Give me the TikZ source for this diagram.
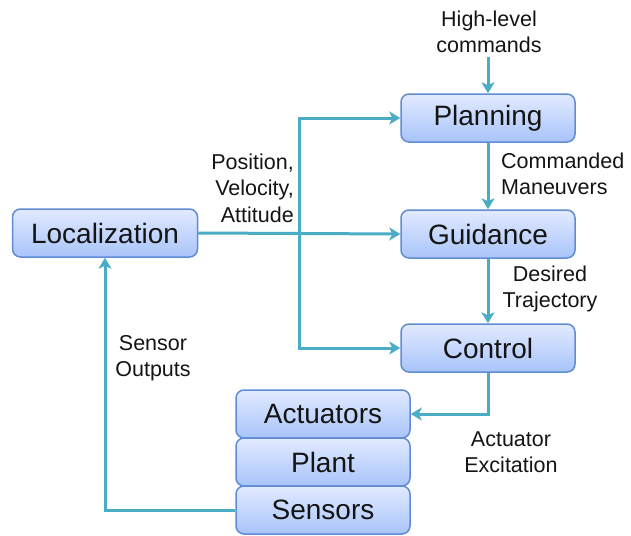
\documentclass[tikz,border=0pt]{standalone}
\usepackage{fontspec}
\setmainfont{Liberation Sans}
\usetikzlibrary{arrows.meta,positioning}
\definecolor{arrowc}{RGB}{75,172,198}
\definecolor{boxtop}{RGB}{226,234,255}
\definecolor{boxbot}{RGB}{168,196,250}
\definecolor{boxdraw}{RGB}{95,140,210}
\definecolor{txt}{RGB}{20,20,20}
\tikzset{
  blk/.style={draw=boxdraw, line width=1.5pt, rounded corners=8pt, top color=boxtop, bottom color=boxbot,
    minimum width=174pt, minimum height=48pt, inner sep=0pt, font=\fontsize{28}{32}\selectfont, text=txt},
  conn/.style={draw=arrowc, line width=3pt, -{Stealth[length=11pt,width=13pt,inset=3pt]}},
  lbl/.style={font=\fontsize{21.5}{26.5}\selectfont, text=txt, align=center, inner sep=0pt},
}
\begin{document}
\begin{tikzpicture}[x=1pt,y=-1pt]
\useasboundingbox (0,0) rectangle (631,535);
\node[blk] (plan) at (488,118) {Planning};
\node[blk] (guid) at (488,234) {Guidance};
\node[blk] (ctrl) at (488,348) {Control};
\node[blk, minimum width=185pt] (loc) at (105,233) {Localization};
\node[blk] (act) at (323,414) {Actuators};
\node[blk] (plant) at (323,462) {Plant};
\node[blk] (sens) at (323,510) {Sensors};
\node[lbl] (hl) at (489,32) {High-level\\commands};
\node[lbl, align=right, anchor=east] (pva) at (294,188) {Position,\\Velocity,\\Attitude};
\node[lbl, align=left, anchor=west] (cm) at (501,174) {Commanded\\Maneuvers};
\node[lbl] (dt) at (550,289) {Desired\\Trajectory};
\node[lbl] (so) at (153,358) {Sensor\\Outputs};
\node[lbl] (ae) at (511,452) {Actuator\\Excitation};
\coordinate (hlb) at (488,57);
\coordinate (split) at (299,233);
\draw[conn] (hlb) -- (plan.north);
\draw[conn] (plan.south) -- (guid.north);
\draw[conn] (guid.south) -- (ctrl.north);
\draw[conn] (ctrl.south) |- (act.east);
\draw[conn] (loc.east) -- (guid.west);
\draw[conn] (split) |- (plan.west);
\draw[conn] (split) |- (ctrl.west);
\draw[conn] (sens.west) -| (loc.south);
\end{tikzpicture}
\end{document}
